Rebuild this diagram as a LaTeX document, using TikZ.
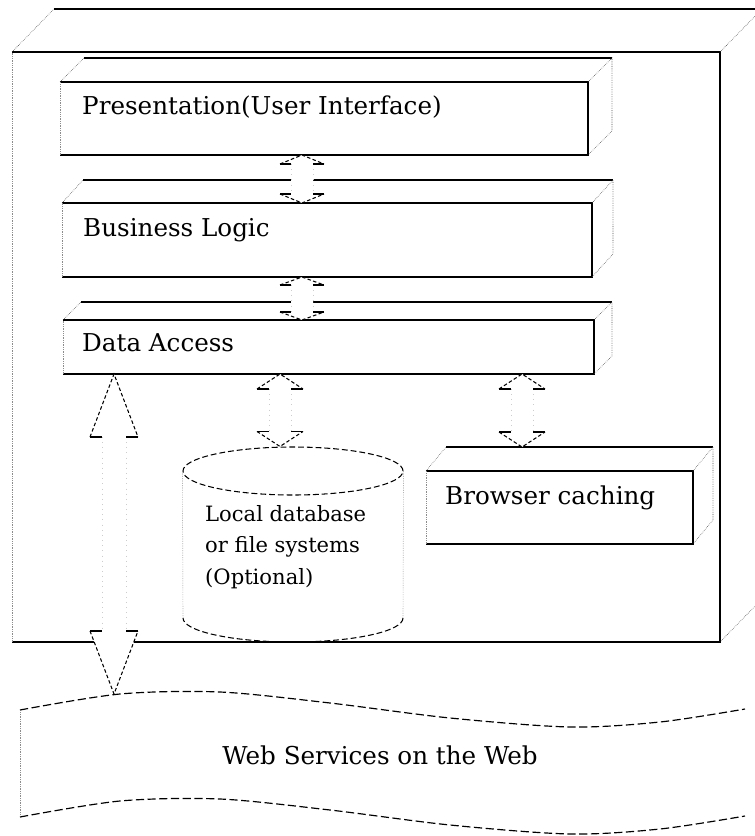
\documentclass[tikz,border=0pt]{standalone}
\usepackage{fontspec}
\setmainfont{DejaVu Serif}
\usetikzlibrary{positioning,fit,calc,shapes.geometric}

% front face of a layer plus its top and side
\newcommand{\cuboid}[3]{%
  \draw[edge] (#1.north west) -- (#1.north east) -- (#1.south east) -- (#1.south west);
  \draw[faint] (#1.south west) -- (#1.north west);
  \draw[edge] ($(#1.north west)+(#2,#3)$) -- ($(#1.north east)+(#2,#3)$);
  \draw[slant] (#1.north west) -- ++(#2,#3);
  \draw[slant] (#1.north east) -- ++(#2,#3) -- ($(#1.south east)+(#2,#3)$) -- (#1.south east);
}

% hollow double block arrow: top tip, bottom tip, head length, head half width, shaft half width
\newcommand{\duplex}[5]{%
  \fill[white] (#1) -- ++(#4,#3) -- ++({#5-#4},0) -- ($(#2)+(#5,-#3)$) -- ++({#4-#5},0) -- (#2)
    -- ++(-#4,-#3) -- ++({#4-#5},0) -- ($(#1)+(-#5,#3)$) -- ++({#5-#4},0) -- cycle;
  \draw[shaft] ($(#1)+(#5,#3)$) -- ($(#2)+(#5,-#3)$) ($(#1)+(-#5,#3)$) -- ($(#2)+(-#5,-#3)$);
  \draw[tipline] ($(#1)+(-#4,#3)$) -- (#1) -- ++(#4,#3);
  \draw[tipline] ($(#2)+(-#4,-#3)$) -- (#2) -- ++(#4,-#3);
  \draw[tipfoot] ($(#1)+(-#4,#3)$) -- ++({#4-#5},0) ($(#1)+(#4,#3)$) -- ++({#5-#4},0)
                 ($(#2)+(-#4,-#3)$) -- ++({#4-#5},0) ($(#2)+(#4,-#3)$) -- ++({#5-#4},0);
}

\begin{document}
\begin{tikzpicture}[x=0.3mm,y=-0.3mm,
    edge/.style={line width=1.1pt},
    faint/.style={black!45,densely dotted,line width=0.5pt},
    slant/.style={black!70,densely dotted,line width=0.5pt},
    layer/.style={inner sep=0pt,outer sep=0pt},
    laytext/.style={inner sep=0pt,anchor=west,font=\fontsize{21}{25}\selectfont},
    dbtext/.style={inner sep=0pt,anchor=north west,align=left,font=\fontsize{18}{27}\selectfont},
    dbline/.style={dash pattern=on 5pt off 2.5pt,line width=0.9pt},
    tipline/.style={densely dashed,line width=0.9pt},
    tipfoot/.style={line width=1.3pt},
    shaft/.style={black!20,loosely dotted,line width=0.4pt},
    wave/.style={dash pattern=on 7pt off 3pt,line width=1pt}]
  \useasboundingbox (0,0) rectangle (754,836);

  % client box
  \node[layer,fit={(12,52) (720,642)}] (client) {};
  \cuboid{client}{42}{-43}

  % layers
  \node[layer,fit={(60,82) (588,155)}] (pres) {};
  \cuboid{pres}{24}{-24}
  \node[laytext] (prestxt) at (82,107) {Presentation(User Interface)};

  \node[layer,fit={(62,203) (592,277)}] (bus) {};
  \cuboid{bus}{21}{-23}
  \node[laytext] (bustxt) at (83,230) {Business Logic};

  \node[layer,fit={(63,320) (594,374)}] (data) {};
  \cuboid{data}{18}{-18}
  \node[laytext] (datatxt) at (82,343) {Data Access};

  \node[layer,fit={(426,471) (693,544)}] (browser) {};
  \cuboid{browser}{20}{-24}
  \node[laytext] (browsertxt) at (445,498) {Browser caching};
  \coordinate (brback) at ($(browser.north)+(0,-24)$);

  % local store
  \node[ellipse,draw,dbline,inner sep=0pt,minimum width=66mm,minimum height=14.4mm] (db) at (293,471) {};
  \draw[faint] (db.west) -- (183,618) (db.east) -- (403,618);
  \draw[dbline] (403,618) arc[start angle=0,end angle=180,x radius=110,y radius=24];
  \node[dbtext] (dbtxt) at (205,505) {Local database\\or file systems\\(Optional)};

  % web services
  \draw[wave] plot[smooth] coordinates {(20,710) (120,694) (220,692) (330,703) (450,718) (570,727) (660,722) (745,709)};
  \draw[wave] plot[smooth] coordinates {(20,817) (120,801) (220,799) (330,810) (450,825) (570,834) (660,829) (745,816)};
  \draw[faint] (20,712) -- (20,815);
  \node[laytext,anchor=center] (web) at (380,755) {Web Services on the Web};
  \coordinate (webtop) at (114,694);

  % links
  \duplex{pres.south -| 302,0}{bus.north -| 302,0}{9}{22}{11}
  \duplex{bus.south -| 302,0}{data.north -| 302,0}{8}{22}{11}
  \duplex{data.south -| 280,0}{db.north -| 280,0}{15}{23}{11}
  \duplex{data.south -| 522,0}{brback -| 522,0}{15}{23}{11}
  \duplex{data.south -| 114,0}{webtop}{63}{24}{12}
\end{tikzpicture}
\end{document}
